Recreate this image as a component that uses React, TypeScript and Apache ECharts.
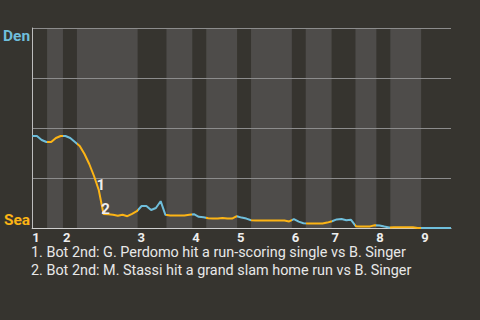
import React, { useEffect, useRef } from 'react';
import * as echarts from 'echarts';

// Win probability for Den (1 = Den wins, 0 = Sea wins), one value per play
const winProb = [
  0.46, 0.46, 0.44, 0.43, 0.43, 0.45, 0.46, 0.46, 0.45, 0.43,
  0.41, 0.37, 0.32, 0.26, 0.19, 0.07, 0.069, 0.066, 0.061, 0.066,
  0.059, 0.071, 0.084, 0.11, 0.11, 0.09, 0.1, 0.134, 0.066, 0.063,
  0.063, 0.062, 0.063, 0.066, 0.069, 0.056, 0.054, 0.049, 0.047, 0.047,
  0.05, 0.047, 0.047, 0.059, 0.052, 0.047, 0.039, 0.037, 0.037, 0.037,
  0.037, 0.037, 0.037, 0.037, 0.033, 0.044, 0.032, 0.024, 0.023, 0.023,
  0.023, 0.023, 0.027, 0.034, 0.043, 0.045, 0.039, 0.041, 0.009, 0.008,
  0.008, 0.008, 0.014, 0.012, 0.007, 0.003, 0.004, 0.004, 0.004, 0.004,
  0.004, 0, 0, 0, 0, 0, 0, 0, 0,
];
const playCount = 88;

// Start of each half inning (top, bottom, top, bottom...) in play units
const halfInningStarts = [
  0, 3.14, 6.48, 9.41, 22.16, 28.22, 33.65, 36.58, 43.06, 45.99,
  54.56, 57.48, 62.92, 67.93, 72.32, 75.25, 81.73,
];
const inningLabels = ['1', '2', '3', '4', '5', '6', '7', '8', '9'];

const awayTeam = 'Den';
const homeTeam = 'Sea';

const annotations = [
  { play: 14, label: '1' },
  { play: 15, label: '2' },
];
const notes = [
  '1. Bot 2nd: G. Perdomo hit a run-scoring single vs B. Singer',
  '2. Bot 2nd: M. Stassi hit a grand slam home run vs B. Singer',
];

const BG = '#36342f';
const BAND = '#4e4c4a';
const BLUE = '#6fbedb';
const ORANGE = '#fcb415';

export default function App() {
  const ref = useRef<HTMLDivElement>(null);
  useEffect(() => {
    if (!ref.current) return;
    const chart = echarts.init(ref.current, undefined, { renderer: 'svg' });
    const inningStarts = halfInningStarts.filter((_, i) => i % 2 === 0);
    const bounds = [...halfInningStarts, playCount];
    const pieces = halfInningStarts.map((s, k) => {
      const p: any = { gte: s, color: k % 2 === 0 ? BLUE : ORANGE };
      if (k < halfInningStarts.length - 1) p.lt = bounds[k + 1];
      else p.lte = playCount + 1;
      return p;
    });
    const bands: any[] = [];
    for (let k = 1; k < halfInningStarts.length; k += 2) {
      bands.push([{ xAxis: bounds[k] }, { xAxis: bounds[k + 1] }]);
    }
    const data = winProb.map((v, i) => [i, v]);
    chart.setOption({
      animation: false,
      backgroundColor: BG,
      grid: { left: 30, right: 29, top: 28, bottom: 92 },
      xAxis: {
        type: 'value',
        min: 0,
        max: playCount,
        offset: 2,
        z: 2,
        axisLine: { show: true, lineStyle: { color: '#cfcfcf', width: 1 } },
        axisTick: { show: false },
        splitLine: { show: false },
        axisLabel: {
          customValues: inningStarts,
          formatter: (v: number) => {
            const k = inningStarts.findIndex((s) => Math.abs(s - v) < 1e-6);
            return k >= 0 ? inningLabels[k] : '';
          },
          align: 'left',
          margin: 1,
          color: '#eeeeee',
          fontFamily: 'Roboto',
          fontWeight: 'bold',
          fontSize: 13,
        },
      },
      yAxis: {
        type: 'value',
        min: 0,
        max: 1,
        interval: 0.25,
        z: 2,
        axisLine: { show: true, lineStyle: { color: '#bdbdbd', width: 1 } },
        axisTick: { show: false },
        splitLine: { show: true, lineStyle: { color: '#8c8c8c', width: 1 } },
        axisLabel: {
          customValues: [0, 1],
          formatter: (v: number) => (v === 1 ? '{den|' + awayTeam + '}' : v === 0 ? '{sea|' + homeTeam + '}' : ''),
          verticalAlignMinLabel: 'bottom',
          verticalAlignMaxLabel: 'top',
          margin: 2,
          rich: {
            den: { color: BLUE, fontFamily: 'Roboto', fontWeight: 'bold', fontSize: 15.5 },
            sea: { color: ORANGE, fontFamily: 'Roboto', fontWeight: 'bold', fontSize: 15.5 },
          },
        },
      },
      visualMap: {
        type: 'piecewise',
        show: false,
        dimension: 0,
        seriesIndex: 1,
        pieces,
      },
      series: [
        {
          type: 'line',
          z: 1,
          silent: true,
          data: [],
          markArea: {
            silent: true,
            itemStyle: { color: BAND },
            data: bands,
          },
        },
        {
          type: 'line',
          z: 3,
          data,
          symbol: 'none',
          lineStyle: { width: 2 },
          markPoint: {
            symbol: 'circle',
            symbolSize: 1,
            itemStyle: { color: 'transparent' },
            label: {
              show: true,
              position: 'inside',
              offset: [2, -5],
              formatter: '{b}',
              color: '#eeeeee',
              fontFamily: 'Roboto',
              fontWeight: 'bold',
              fontSize: 15,
            },
            data: annotations.map((a) => ({ name: a.label, coord: [a.play, winProb[a.play]] })),
          },
        },
      ],
      graphic: [
        {
          type: 'text',
          left: 31,
          top: 243,
          style: {
            text: notes.join('\n'),
            fill: '#e8e8e8',
            fontFamily: 'Roboto',
            fontSize: 14.4,
            lineHeight: 18,
          },
        },
      ],
    });
    return () => chart.dispose();
  }, []);
  return <div ref={ref} style={{ position: 'absolute', left: 0, top: 0, width: 480, height: 320 }} />;
}
